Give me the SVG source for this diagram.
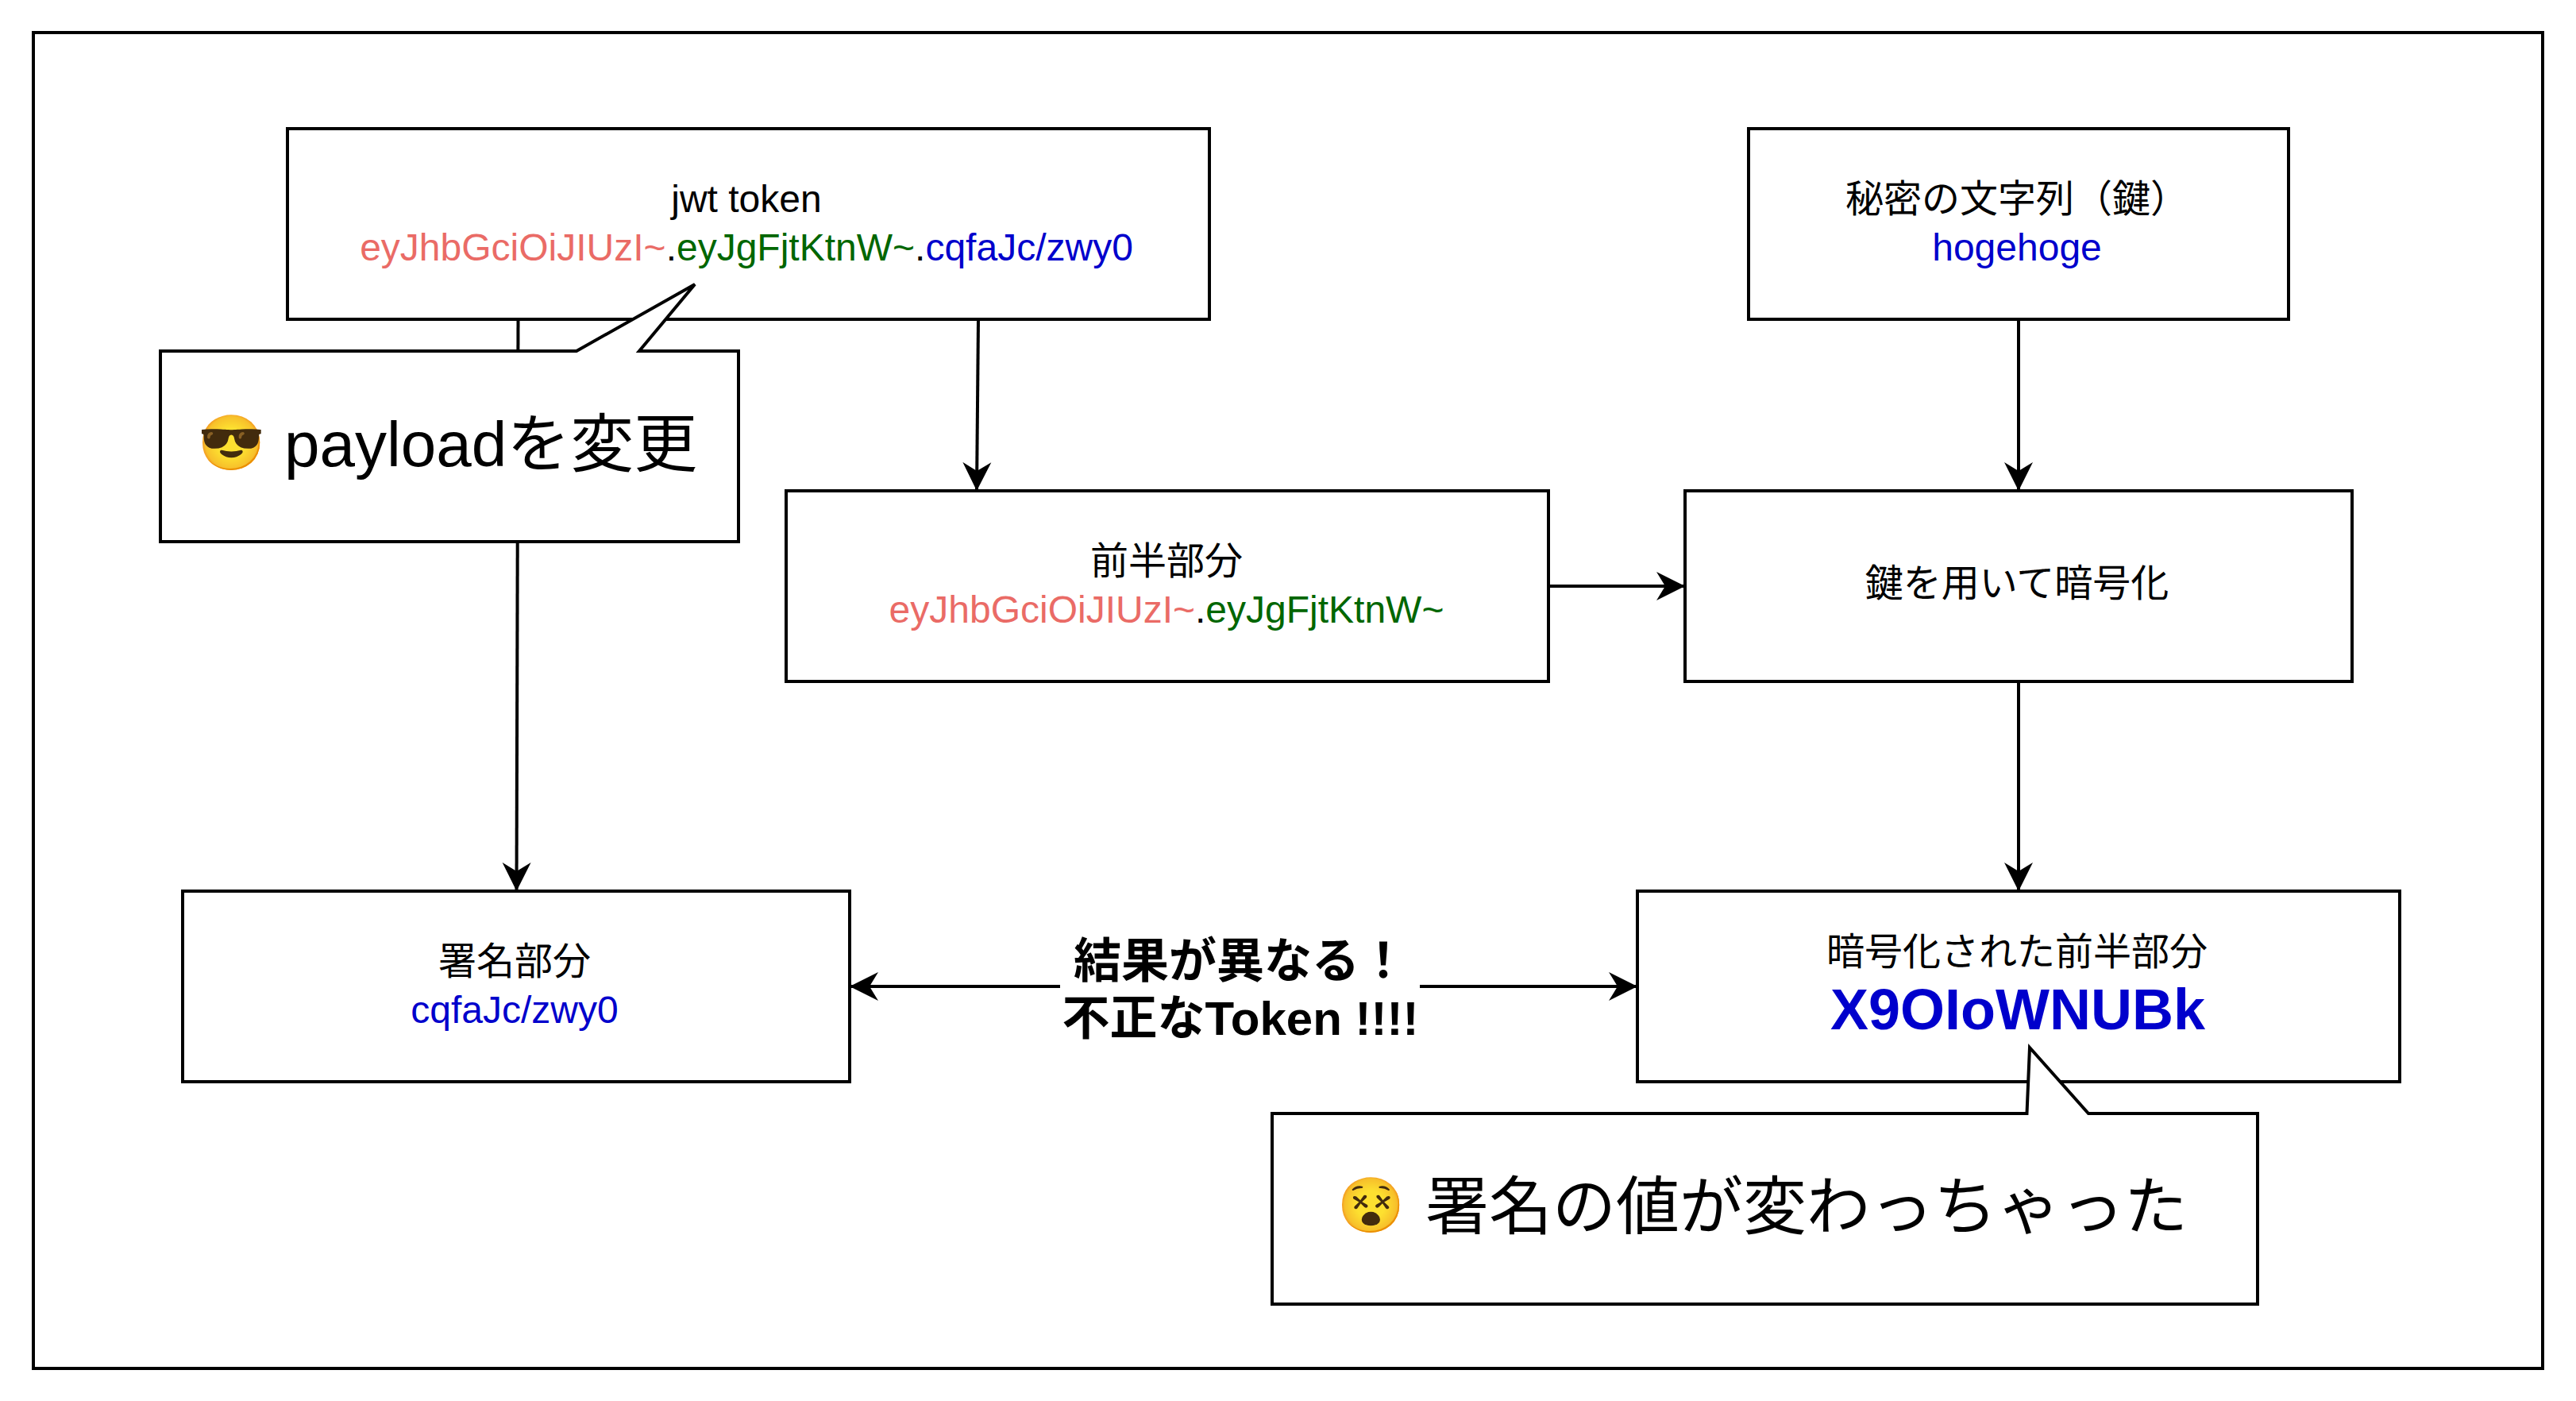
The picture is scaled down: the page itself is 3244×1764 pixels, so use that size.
<svg xmlns="http://www.w3.org/2000/svg" width="3244" height="1764" viewBox="0 0 3244 1764">
<style>
.b{fill:#fff;stroke:#000;stroke-width:4}
.c{fill:none;stroke:#000;stroke-width:4}
text{font-family:"Liberation Sans","Noto Sans CJK JP",sans-serif;fill:#000;text-anchor:middle;font-size:48px}
.r{fill:#EA6B66}.g{fill:#006600}.u{fill:#0000CC}
.h{font-size:60px;font-weight:bold}
.x{font-size:72px;font-weight:bold;fill:#0000CC}
.e{font-size:80px;text-anchor:start}
.m{font-size:68px;text-anchor:start}
</style>
<defs>
<marker id="a" markerUnits="userSpaceOnUse" markerWidth="40" markerHeight="40" refX="36" refY="19" orient="auto"><path d="M36 19L0 1L11 19L0 37Z" fill="#000"/></marker>
</defs>
<rect id="frame" x="42" y="41" width="3160" height="1682" fill="#fff" stroke="#000" stroke-width="4"/>
<g id="connectors">
<path class="c" d="M652.5 402L650.5 1122" marker-end="url(#a)"/>
<path class="c" d="M1232 402L1230 618" marker-end="url(#a)"/>
<path class="c" d="M2542 402V618" marker-end="url(#a)"/>
<path class="c" d="M1950 738H2122" marker-end="url(#a)"/>
<path class="c" d="M2542 858V1122" marker-end="url(#a)"/>
<path class="c" d="M1335 1242H1070" marker-end="url(#a)"/>
<path class="c" d="M1788 1242H2062" marker-end="url(#a)"/>
</g>
<g id="n-jwt"><rect class="b" x="362" y="162" width="1161" height="240"/>
<text x="940" y="267">jwt token</text>
<text x="940" y="328"><tspan class="r">eyJhbGciOiJIUzI~</tspan>.<tspan class="g">eyJgFjtKtnW~</tspan>.<tspan class="u">cqfaJc/zwy0</tspan></text></g>
<g id="n-secret"><rect class="b" x="2202" y="162" width="680" height="240"/>
<text x="2540" y="267">秘密の文字列（鍵）</text>
<text x="2540" y="328" class="u">hogehoge</text></g>
<g id="n-first"><rect class="b" x="990" y="618" width="960" height="240"/>
<text x="1469" y="723">前半部分</text>
<text x="1469" y="784"><tspan class="r">eyJhbGciOiJIUzI~</tspan>.<tspan class="g">eyJgFjtKtnW~</tspan></text></g>
<g id="n-encrypt"><rect class="b" x="2122" y="618" width="840" height="240"/>
<text x="2540" y="751">鍵を用いて暗号化</text></g>
<g id="n-sig"><rect class="b" x="230" y="1122" width="840" height="240"/>
<text x="648" y="1227">署名部分</text>
<text x="648" y="1288" class="u">cqfaJc/zwy0</text></g>
<g id="n-result"><rect class="b" x="2062" y="1122" width="960" height="240"/>
<text x="2540" y="1215">暗号化された前半部分</text>
<text x="2541" y="1296" class="x">X9OIoWNUBk</text></g>
<g id="n-diff">
<text x="1562" y="1231" class="h">結果が異なる！</text>
<text x="1562" y="1303" class="h">不正なToken !!!!</text></g>
<g id="n-call1"><path class="b" d="M202 442H726L875 358L805 442H930V682H202Z"/>
<text x="249" y="581" class="m">😎</text>
<text x="358" y="587" class="e">payloadを変更</text></g>
<g id="n-call2"><path class="b" d="M1602 1402H2552.5L2556 1319L2630 1402H2843V1642H1602Z"/>
<text x="1684" y="1541" class="m">😵</text>
<text x="1795" y="1547" class="e">署名の値が変わっちゃった</text></g>
</svg>
